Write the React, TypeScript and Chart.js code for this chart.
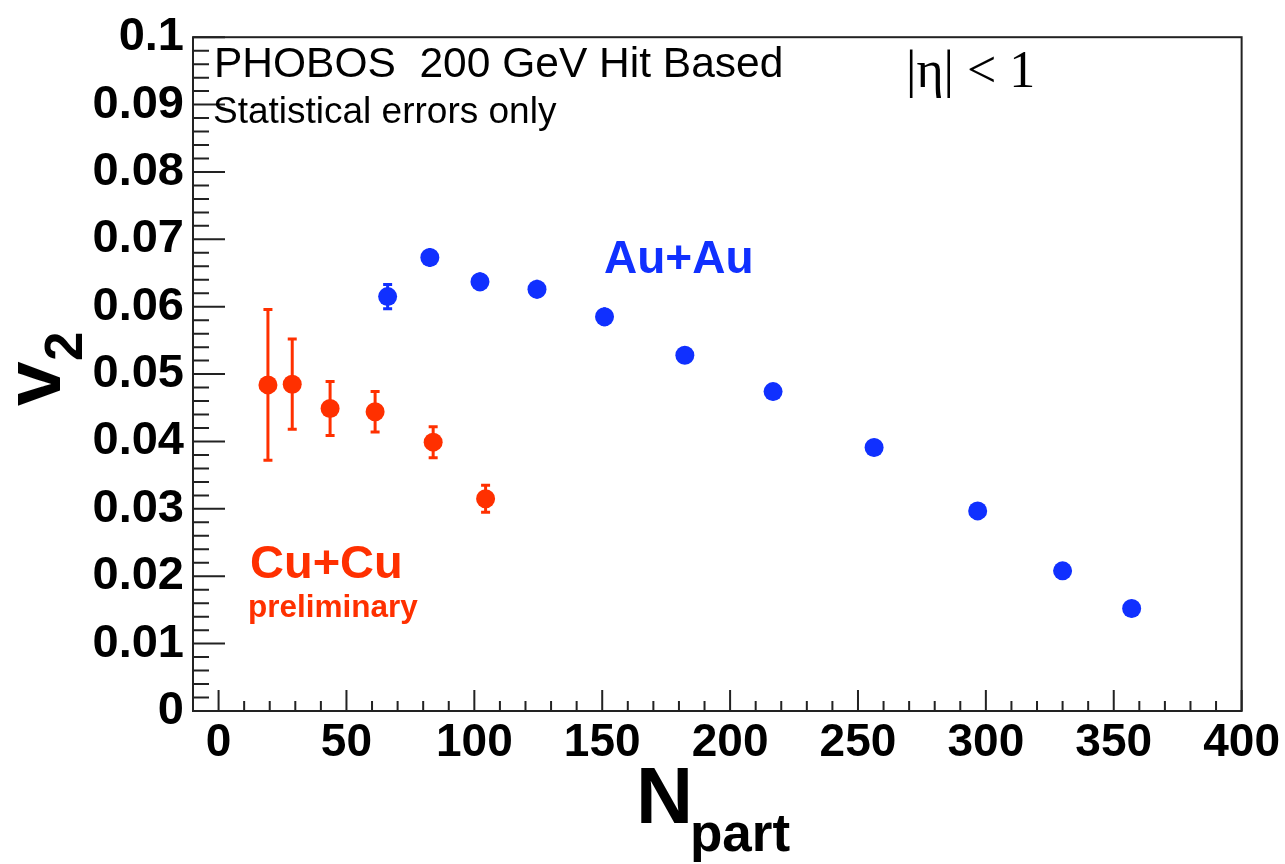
import React, { useEffect, useRef } from 'react';
import { Chart, registerables } from 'chart.js';

Chart.register(...registerables);

// ---- data ----
const cuNpart = [19.3, 28.8, 43.6, 61.2, 83.9, 104.4];
const cuV2 = [0.0484, 0.0485, 0.0449, 0.0444, 0.0399, 0.0315];
const cuErr = [0.0112, 0.0067, 0.004, 0.003, 0.0023, 0.002];

const auNpart = [66.1, 82.6, 102.2, 124.5, 150.9, 182.3, 216.8, 256.3, 296.8, 330.0, 357.0];
const auV2 = [0.0615, 0.0673, 0.0637, 0.0626, 0.0585, 0.0528, 0.0474, 0.0391, 0.0297, 0.0208, 0.0152];
const auErr = [0.0018, 0.0014, 0.0014, 0.0014, 0.0014, 0.0013, 0.0013, 0.0013, 0.0013, 0.0013, 0.0013];

const xTickValues = [0, 50, 100, 150, 200, 250, 300, 350, 400];
const xTickLabels = ['0', '50', '100', '150', '200', '250', '300', '350', '400'];
const yTickValues = [0, 0.01, 0.02, 0.03, 0.04, 0.05, 0.06, 0.07, 0.08, 0.09, 0.1];
const yTickLabels = ['0', '0.01', '0.02', '0.03', '0.04', '0.05', '0.06', '0.07', '0.08', '0.09', '0.1'];

const BLUE = '#1030ff';
const RED = '#ff3000';
const SANS = '"Liberation Sans", Arial, Helvetica, sans-serif';
const SERIF = '"Liberation Serif", "Times New Roman", serif';

const errorBars = {
  id: 'errorBars',
  beforeDatasetsDraw(chart: any) {
    const { ctx, scales } = chart;
    const x = scales.x, y = scales.y;
    const sets = [
      { xs: cuNpart, ys: cuV2, es: cuErr, color: RED },
      { xs: auNpart, ys: auV2, es: auErr, color: BLUE },
    ];
    ctx.save();
    for (const s of sets) {
      ctx.strokeStyle = s.color;
      ctx.lineWidth = 3;
      for (let i = 0; i < s.xs.length; i++) {
        const px = x.getPixelForValue(s.xs[i]);
        const top = y.getPixelForValue(s.ys[i] + s.es[i]);
        const bot = y.getPixelForValue(s.ys[i] - s.es[i]);
        const c = y.getPixelForValue(s.ys[i]);
        ctx.beginPath();
        ctx.moveTo(px, top);
        ctx.lineTo(px, bot);
        ctx.stroke();
        if (c - top > 11) {
          ctx.beginPath();
          ctx.moveTo(px - 4.5, top);
          ctx.lineTo(px + 4.5, top);
          ctx.moveTo(px - 4.5, bot);
          ctx.lineTo(px + 4.5, bot);
          ctx.stroke();
        }
      }
    }
    ctx.restore();
  },
};

const frameAndText = {
  id: 'frameAndText',
  afterDraw(chart: any) {
    const { ctx, chartArea: a, scales } = chart;
    const x = scales.x, y = scales.y;
    ctx.save();
    ctx.strokeStyle = '#222';
    ctx.lineWidth = 2;
    ctx.strokeRect(a.left, a.top, a.right - a.left, a.bottom - a.top);
    ctx.beginPath();
    for (let i = 0; i <= 40; i++) {
      const px = x.getPixelForValue(i * 10);
      const len = i % 5 === 0 ? 21 : 10;
      ctx.moveTo(px, a.bottom);
      ctx.lineTo(px, a.bottom - len);
    }
    for (let i = 0; i <= 50; i++) {
      const py = y.getPixelForValue(i * 0.002);
      const len = i % 5 === 0 ? 32 : 16;
      ctx.moveTo(a.left, py);
      ctx.lineTo(a.left + len, py);
    }
    ctx.stroke();

    ctx.fillStyle = '#000';
    ctx.textAlign = 'left';
    ctx.textBaseline = 'alphabetic';
    ctx.font = `42.5px ${SANS}`;
    ctx.fillText('PHOBOS  200 GeV Hit Based', 214, 77);
    ctx.font = `37px ${SANS}`;
    ctx.fillText('Statistical errors only', 213, 123);
    ctx.font = `52px ${SERIF}`;
    ctx.fillText('|η| < 1', 906, 87);

    ctx.fillStyle = BLUE;
    ctx.font = `bold 46px ${SANS}`;
    ctx.fillText('Au+Au', 604, 273);
    ctx.fillStyle = RED;
    ctx.font = `bold 47px ${SANS}`;
    ctx.fillText('Cu+Cu', 250, 578);
    ctx.font = `bold 31.5px ${SANS}`;
    ctx.fillText('preliminary', 248, 617);

    // axis titles
    ctx.fillStyle = '#000';
    ctx.font = `bold 79px ${SANS}`;
    ctx.fillText('N', 636, 823);
    ctx.font = `bold 53px ${SANS}`;
    ctx.fillText('part', 690, 851);

    ctx.save();
    ctx.translate(60, 406);
    ctx.rotate(-Math.PI / 2);
    ctx.font = `bold 80px ${SANS}`;
    ctx.fillText('v', 0, 0);
    ctx.restore();
    ctx.save();
    ctx.translate(82, 361);
    ctx.rotate(-Math.PI / 2);
    ctx.font = `bold 53px ${SANS}`;
    ctx.fillText('2', 0, 0);
    ctx.restore();

    ctx.restore();
  },
};

export default function App() {
  const ref = useRef<HTMLCanvasElement>(null);
  useEffect(() => {
    if (!ref.current) return;
    const chart = new Chart(ref.current, {
      type: 'scatter',
      data: {
        datasets: [
          {
            label: 'Cu+Cu',
            data: cuNpart.map((v, i) => ({ x: v, y: cuV2[i] })),
            backgroundColor: RED,
            borderWidth: 0,
            pointRadius: 9.5,
          },
          {
            label: 'Au+Au',
            data: auNpart.map((v, i) => ({ x: v, y: auV2[i] })),
            backgroundColor: BLUE,
            borderWidth: 0,
            pointRadius: 9.5,
          },
        ],
      },
      options: {
        responsive: false,
        animation: false,
        events: [],
        layout: { padding: { left: 0, top: 31, right: 42, bottom: 0 } },
        plugins: { legend: { display: false }, tooltip: { enabled: false } },
        scales: {
          x: {
            type: 'linear',
            min: -10,
            max: 400,
            grid: { display: false, drawTicks: false },
            border: { display: false },
            afterBuildTicks: (s: any) => {
              s.ticks = xTickValues.map((v) => ({ value: v }));
            },
            afterFit: (s: any) => {
              s.height = 153;
            },
            ticks: {
              padding: 5,
              maxRotation: 0,
              autoSkip: false,
              color: '#000',
              font: { family: SANS, size: 46, weight: 'bold' },
              callback: (v: any) => xTickLabels[xTickValues.indexOf(Number(v))] ?? '',
            },
          },
          y: {
            type: 'linear',
            min: 0,
            max: 0.1,
            grid: { display: false, drawTicks: false },
            border: { display: false },
            afterBuildTicks: (s: any) => {
              s.ticks = yTickValues.map((v) => ({ value: v }));
            },
            afterFit: (s: any) => {
              s.width = 193;
            },
            ticks: {
              padding: 9,
              autoSkip: false,
              color: '#000',
              font: { family: SANS, size: 47, weight: 'bold' },
              callback: (v: any) => {
                const idx = yTickValues.findIndex((t) => Math.abs(t - Number(v)) < 1e-9);
                return idx >= 0 ? yTickLabels[idx] : '';
              },
            },
          },
        },
      } as any,
      plugins: [errorBars, frameAndText],
    });
    return () => chart.destroy();
  }, []);
  return (
    <div style={{ position: 'absolute', left: 0, top: 0, width: 1285, height: 864, background: '#fff' }}>
      <canvas ref={ref} width={1285} height={864} />
    </div>
  );
}
